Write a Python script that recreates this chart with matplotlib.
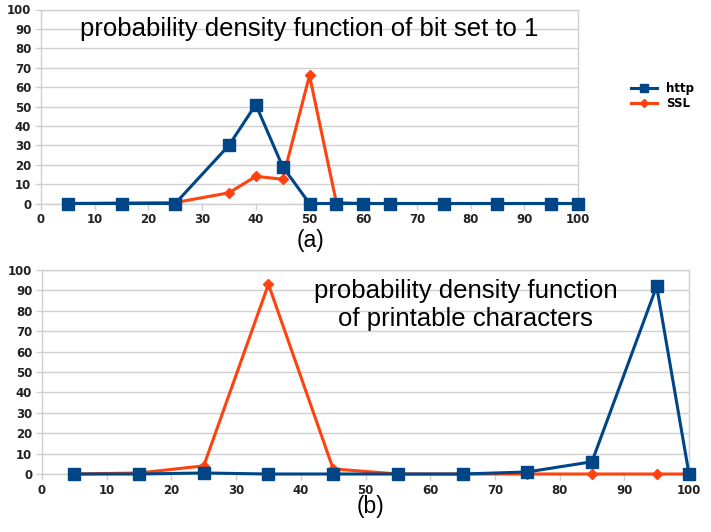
import matplotlib.pyplot as plt

# (a) bit set to 1
a_x = [5, 15, 25, 35, 40, 45, 50, 55, 60, 65, 75, 85, 95, 100]
a_http = [0, 0, 0, 30, 51, 19, 0, 0, 0, 0, 0, 0, 0, 0]
a_ssl = [0, 0.3, 0.5, 5.5, 14, 12.5, 66, 0.5, 0, 0, 0, 0, 0, 0]

# (b) printable characters
b_x = [5, 15, 25, 35, 45, 55, 65, 75, 85, 95, 100]
b_http = [0, 0, 0.5, 0, 0, 0, 0, 1, 6, 92, 0]
b_ssl = [0, 0.5, 4, 93, 2.5, 0, 0, 0, 0, 0, 0]

x_ticks = list(range(0, 101, 10))
y_ticks = list(range(0, 101, 10))

HTTP_COLOR = "#004586"
SSL_COLOR = "#ff420e"
GRID_COLOR = "#d0d0d0"
TICK_FONT = {"family": "DejaVu Sans", "weight": "bold", "size": 8.5}

plt.rcParams["font.family"] = ["Liberation Sans", "DejaVu Sans"]

fig = plt.figure(figsize=(7.11, 5.32), dpi=100)


def style_axis(axis):
    axis.set_xlim(0, 100)
    axis.set_ylim(0, 100)
    axis.set_xticks(x_ticks)
    axis.set_yticks(y_ticks)
    axis.grid(True, axis="y", color=GRID_COLOR, linewidth=1.0)
    axis.set_axisbelow(True)
    for spine in axis.spines.values():
        spine.set_color(GRID_COLOR)
        spine.set_linewidth(1.0)
    axis.tick_params(length=4, width=1, color=GRID_COLOR, pad=3)
    for label in axis.get_xticklabels() + axis.get_yticklabels():
        label.set_fontproperties(TICK_FONT)
        label.set_color("#222222")


def draw_series(axis, xs, http, ssl):
    axis.plot(
        xs, ssl,
        color=SSL_COLOR, linewidth=2.2,
        marker="D", markersize=5,
        clip_on=False, zorder=3, label="SSL",
    )
    axis.plot(
        xs, http,
        color=HTTP_COLOR, linewidth=2.2,
        marker="s", markersize=8,
        clip_on=False, zorder=4, label="http",
    )


top = fig.add_axes([41 / 711, 1 - 203.5 / 532, 537 / 711, 194 / 532])
style_axis(top)
draw_series(top, a_x, a_http, a_ssl)
top.text(
    0.5, 0.9,
    "probability density function of bit set to 1",
    transform=top.transAxes,
    ha="center", va="center",
    fontsize=18.5,
)
fig.text(310 / 711, 1 - 240 / 532, "(a)", ha="center", va="center", fontsize=16.5)

handles, labels = top.get_legend_handles_labels()
fig.legend(
    handles[::-1], labels[::-1],
    loc="center left",
    bbox_to_anchor=(620 / 711, 1 - 96 / 532),
    frameon=False,
    prop=TICK_FONT,
    handlelength=2.2,
    markerscale=0.8,
    labelspacing=0.2,
)

bottom = fig.add_axes([42 / 711, 1 - 474 / 532, 647 / 711, 204 / 532])
style_axis(bottom)
draw_series(bottom, b_x, b_http, b_ssl)
bottom.text(
    0.655, 0.83,
    "probability density function\nof printable characters",
    transform=bottom.transAxes,
    ha="center", va="center",
    fontsize=18.5,
    linespacing=1.2,
)
fig.text(370 / 711, 1 - 507 / 532, "(b)", ha="center", va="center", fontsize=16.5)

fig.savefig("out.png", dpi=100)
